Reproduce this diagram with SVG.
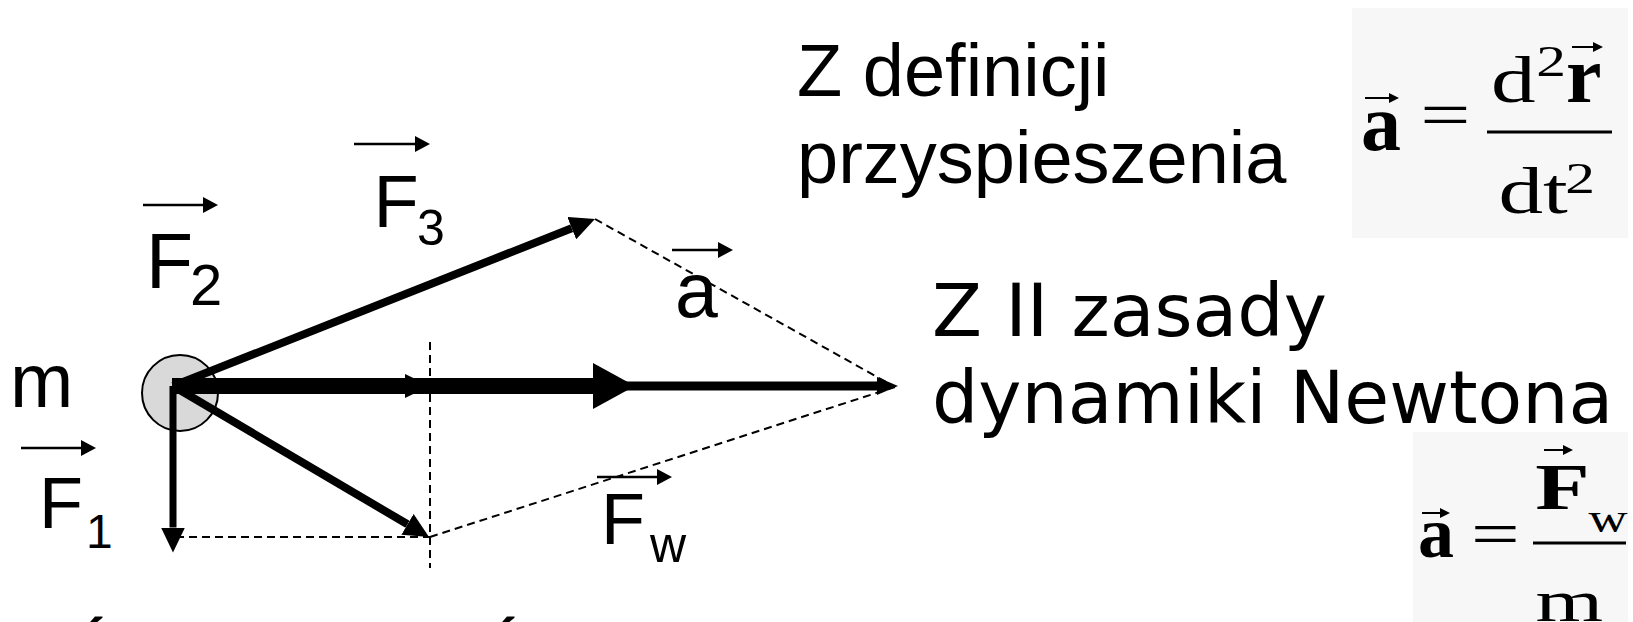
<svg xmlns="http://www.w3.org/2000/svg" width="1633" height="622" viewBox="0 0 1633 622">
<style>
.sans{font-family:"Liberation Sans",Arial,sans-serif;fill:#000}
.ser{font-family:"Liberation Serif","Times New Roman",serif;fill:#000}
.dv{font-family:"DejaVu Sans",Verdana,sans-serif;fill:#000}
.dash{stroke:#000;stroke-width:2;stroke-dasharray:8 5;fill:none}
.sm{stroke:#000;stroke-width:2.5;fill:none;marker-end:url(#sh)}
.fm{stroke:#000;stroke-width:2;fill:none;marker-end:url(#fh)}
.force{stroke:#000;fill:none}
</style>
<defs>
<marker id="sh" viewBox="0 0 15 16" refX="0" refY="8" markerWidth="15" markerHeight="16" markerUnits="userSpaceOnUse" orient="auto"><path d="M0,0 L15,8 L0,16 z" fill="#000"/></marker>
<marker id="fh" viewBox="0 0 10 10" refX="0" refY="5" markerWidth="10" markerHeight="10" markerUnits="userSpaceOnUse" orient="auto"><path d="M0,0 L10,5 L0,10 z" fill="#000"/></marker>
<marker id="hd" viewBox="0 0 25 24" refX="0" refY="12" markerWidth="25" markerHeight="24" markerUnits="userSpaceOnUse" orient="auto"><path d="M0,0 L25,12 L0,24 z" fill="#000"/></marker>
<marker id="big" viewBox="0 0 42 46" refX="0" refY="23" markerWidth="42" markerHeight="46" markerUnits="userSpaceOnUse" orient="auto"><path d="M0,0 L42,23 L0,46 z" fill="#000"/></marker>
<marker id="fw" viewBox="0 0 21 18" refX="0" refY="9" markerWidth="21" markerHeight="18" markerUnits="userSpaceOnUse" orient="auto"><path d="M0,0 L21,9 L0,18 z" fill="#000"/></marker>
</defs>
<rect width="1633" height="622" fill="#fff"/>

<g id="mass">
<circle cx="180" cy="393" r="38" fill="#d9d9d9" stroke="#000" stroke-width="2"/>
<text class="sans" x="10" y="407" font-size="76">m</text>
</g>

<g id="connectors">
<line class="dash" x1="176" y1="537" x2="430" y2="537"/>
<line class="dash" x1="430" y1="342" x2="430" y2="568"/>
<line class="dash" x1="430" y1="537" x2="895" y2="387"/>
<line class="dash" x1="595" y1="219" x2="895" y2="387"/>
<line class="force" stroke-width="9" x1="173" y1="386" x2="877" y2="386" marker-end="url(#fw)"/>
<line class="force" stroke-width="16" x1="172" y1="386" x2="593" y2="386" marker-end="url(#big)"/>
<line class="force" stroke-width="8" x1="173" y1="386" x2="405" y2="386" marker-end="url(#hd)"/>
<line class="force" stroke-width="7" x1="173" y1="386" x2="173" y2="527.5" marker-end="url(#hd)"/>
<line class="force" stroke-width="8" x1="173" y1="386" x2="407.5" y2="524.3" marker-end="url(#hd)"/>
<line class="force" stroke-width="8" x1="173" y1="386" x2="571.75" y2="228.2" marker-end="url(#hd)"/>
</g>

<g id="label-F1">
<line class="sm" x1="21" y1="448" x2="81" y2="448"/>
<text class="sans" x="39" y="528" font-size="72">F</text>
<text class="sans" x="86" y="548" font-size="48">1</text>
</g>
<g id="label-F2">
<line class="sm" x1="143" y1="205" x2="203" y2="205"/>
<text class="sans" x="146" y="288" font-size="77">F</text>
<text class="sans" x="190" y="305" font-size="58">2</text>
</g>
<g id="label-F3">
<line class="sm" x1="354" y1="144" x2="415" y2="144"/>
<text class="sans" x="373.5" y="226.7" font-size="74">F</text>
<text class="sans" x="417" y="245" font-size="50">3</text>
</g>
<g id="label-a">
<line class="sm" x1="672" y1="250" x2="718" y2="250"/>
<text class="sans" x="675" y="317" font-size="77">a</text>
</g>
<g id="label-Fw">
<line class="sm" x1="597" y1="477" x2="657" y2="477"/>
<text class="sans" x="601" y="544" font-size="72">F</text>
<text class="sans" x="650" y="562" font-size="50">w</text>
</g>

<g id="text-definicja">
<text class="sans" x="797" y="96" font-size="74">Z definicji</text>
<text class="sans" x="797" y="183" font-size="74">przyspieszenia</text>
</g>

<g id="formula-1">
<rect x="1352" y="8" width="276" height="230" fill="#f7f7f7"/>
<text class="ser" x="1361" y="150" font-size="80" font-weight="bold">a</text>
<text class="ser" x="1566" y="102" font-size="80" font-weight="bold">r</text>
<g transform="matrix(1.35 0 0 1 1352 0)" class="ser" font-size="66">
<text x="50.5" y="137">=</text>
<text x="103" y="102">d</text>
<text x="136.5" y="76" font-size="44">2</text>
<text x="108.5" y="213">dt</text>
<text x="158" y="193" font-size="44">2</text>
</g>
<line x1="1487" y1="132" x2="1612" y2="132" stroke="#000" stroke-width="3"/>
<line class="fm" x1="1365" y1="98" x2="1389" y2="98"/>
<line class="fm" x1="1572" y1="47" x2="1593" y2="47"/>
</g>

<g id="text-zasada">
<text class="dv" x="932" y="336" font-size="73">Z II zasady</text>
<text class="dv" x="932" y="423" font-size="73">dynamiki Newtona</text>
</g>

<g id="formula-2">
<rect x="1413" y="432" width="215" height="190" fill="#f7f7f7"/>
<text class="ser" x="1418" y="557" font-size="72" font-weight="bold">a</text>
<g transform="matrix(1.35 0 0 1 1413 0)" class="ser" font-size="64">
<text x="43" y="555.5">=</text>
<text x="90.5" y="509" font-size="66" font-weight="bold">F</text>
<text x="130" y="532" font-size="40">w</text>
</g>
<text class="ser" transform="matrix(1.45 0 0 1 1537 0)" x="-1" y="621" font-size="60">m</text>
<line x1="1533" y1="543" x2="1626" y2="543" stroke="#000" stroke-width="3"/>
<line class="fm" x1="1422" y1="513" x2="1440" y2="513"/>
<line class="fm" x1="1544" y1="450" x2="1563" y2="450"/>
</g>

<g id="bottom-accents">
<text class="sans" x="85" y="660" font-size="60" font-weight="bold">´</text>
<text class="sans" x="497" y="660" font-size="60" font-weight="bold">´</text>
</g>
</svg>
